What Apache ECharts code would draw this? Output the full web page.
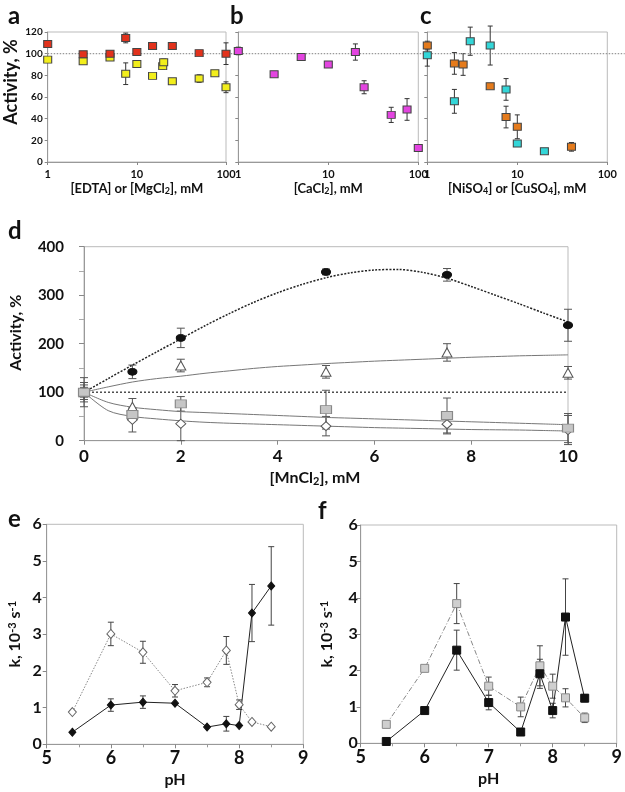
<!DOCTYPE html>
<html><head><meta charset="utf-8">
<script src="https://cdn.jsdelivr.net/npm/echarts@6/dist/echarts.min.js"></script>
<style>html,body{margin:0;padding:0;background:#fff}#c{width:625px;height:792px}</style>
</head><body><div id="c"></div>
<script>
// ---- Panel a: [EDTA] (red) and [MgCl2] (yellow)
const aRedX = [1, 2.5, 5, 7.5, 10, 15, 25, 50, 100];
const aRedY = [109, 99.5, 100, 114.5, 101.5, 107, 107, 100.5, 100];
const aRedE = [2, 1.5, 1.5, 4.5, 1.5, 1.5, 1.5, 1.5, 10];
const aYelX = [1, 2.5, 5, 7.5, 10, 15, 19.5, 20, 25, 50, 75, 100];
const aYelY = [94.5, 93, 96.5, 81.5, 90.5, 79.5, 88.5, 92, 74.5, 77, 82, 69];
const aYelE = [1.5, 1.5, 1.5, 10, 1.5, 2, 3, 3, 1, 3.5, 2, 5];
// ---- Panel b: [CaCl2]
const bMagX = [1, 2.5, 5, 10, 20, 25, 50, 75, 100];
const bMagY = [102.5, 81, 97, 90, 101.5, 69, 43.5, 48.5, 13];
const bMagE = [3.5, 1, 2, 1.5, 7.5, 6, 7, 10, 3];
// ---- Panel c: [NiSO4] (orange) / [CuSO4] (cyan)
const cOrX = [1, 2, 2.5, 5, 7.5, 10, 40];
const cOrY = [107.5, 91, 90, 70, 41.5, 32.5, 14];
const cOrE = [4, 10, 10, 1.5, 10, 11, 4];
const cCyX = [1, 2, 3, 5, 7.5, 10, 20];
const cCyY = [98.5, 56, 111.5, 107.5, 67, 17, 10];
const cCyE = [10, 11, 13, 18, 10, 1, 1];
const topTicks = [0, 20, 40, 60, 80, 100, 120];
const refY = 100;
// ---- Panel d: [MnCl2]
const dX = [0, 1, 2, 5, 7.5, 10];
const dCircle = [100, 142, 212, 348, 342, 238];
const dCircleE = [15, 14, 20, 6, 13, 33];
const dTri = [100, 70, 155, 142, 182, 140];
const dTriE = [10, 17, 13, 13, 18, 13];
const dSq = [100, 54, 76, 64, 52, 26];
const dSqE = [20, 12, 15, 40, 36, 30];
const dDia = [100, 43, 35, 30, 34, 22];
const dDiaE = [30, 25, 35, 20, 20, 30];
// fitted curves, every 0.5 mM
const dCurveX = [0, 0.5, 1, 1.5, 2, 2.5, 3, 3.5, 4, 4.5, 5, 5.5, 6, 6.5, 7, 7.5, 8, 8.5, 9, 9.5, 10];
const dCurvePeak = [100, 128, 156, 183, 210, 237, 262, 285, 305, 322, 336, 346, 352, 353, 347, 335, 318, 300, 282, 263, 245];
const dCurveRise = [100, 111, 121, 128, 133, 139, 144, 149, 153, 156, 159, 161.5, 164, 166, 168, 170, 172, 173.5, 175, 176, 177];
const dCurveSq = [100, 79, 69, 64, 60, 58, 56, 54, 52, 50, 48, 46.5, 45, 43.5, 42, 40.5, 39, 37.5, 36, 34.5, 33];
const dCurveDia = [100, 62, 50, 45, 41, 38, 36, 34.5, 33, 31.5, 30, 28.5, 27, 26, 25, 24, 23, 22.5, 22, 21, 20];
// ---- Panels e, f: pH
const pH = [5.4, 6, 6.5, 7, 7.5, 7.8, 8, 8.2, 8.5];
const eFilled = [0.33, 1.07, 1.15, 1.12, 0.47, 0.56, 0.51, 3.58, 4.32];
const eFilledE = [0, 0.17, 0.17, 0, 0, 0.2, 0, 0.78, 1.07];
const eOpen = [0.88, 3.01, 2.51, 1.46, 1.69, 2.56, 1.08, 0.61, 0.48];
const eOpenE = [0, 0.32, 0.3, 0.17, 0.12, 0.38, 0.13, 0, 0];
const fBlack = [0.05, 0.9, 2.56, 1.12, 0.31, 1.91, 0.9, 3.47, 1.24];
const fBlackE = [0, 0, 0.55, 0.2, 0, 0.4, 0.2, 1.05, 0.1];
const fGray = [0.52, 2.06, 3.84, 1.57, 1.0, 2.13, 1.57, 1.25, 0.7];
const fGrayE = [0, 0, 0.55, 0.25, 0.27, 0.55, 0.33, 0.25, 0.13];

const FONT = 'Lato';
const zip = (xs, ys) => xs.map((x, i) => [x, ys[i]]);

function errBars(idx, xs, ys, es, cap, color) {
  const data = [];
  xs.forEach((x, i) => { if (es[i] > 0) data.push([x, ys[i] - es[i], ys[i] + es[i]]); });
  return {
    type: 'custom', xAxisIndex: idx, yAxisIndex: idx, data, encode: { x: 0, y: [1, 2] }, z: 1, silent: true,
    renderItem(params, api) {
      const x = api.value(0);
      const lo = api.coord([x, api.value(1)]);
      const hi = api.coord([x, api.value(2)]);
      const st = { stroke: color, lineWidth: 1 };
      return { type: 'group', children: [
        { type: 'line', shape: { x1: lo[0], y1: lo[1], x2: hi[0], y2: hi[1] }, style: st },
        { type: 'line', shape: { x1: hi[0] - cap, y1: hi[1], x2: hi[0] + cap, y2: hi[1] }, style: st },
        { type: 'line', shape: { x1: lo[0] - cap, y1: lo[1], x2: lo[0] + cap, y2: lo[1] }, style: st }
      ] };
    }
  };
}
function scat(idx, xs, ys, symbol, size, fill, border, z) {
  return { type: 'scatter', xAxisIndex: idx, yAxisIndex: idx, data: zip(xs, ys), symbol, symbolSize: size,
    itemStyle: { color: fill, borderColor: border, borderWidth: 1, opacity: 1 }, z: z || 3, silent: true };
}
function lineS(idx, xs, ys, color, type, width, smooth, z) {
  return { type: 'line', xAxisIndex: idx, yAxisIndex: idx, data: zip(xs, ys), showSymbol: false, symbol: 'none',
    smooth: smooth || false, lineStyle: { color, type, width }, z: z || 2, silent: true };
}

const lbl = (size, margin, extra) => Object.assign({ fontSize: size, fontWeight: 'bold', color: '#111', fontFamily: FONT, margin }, extra || {});
const nameStyle = (size, extra) => Object.assign({ fontSize: size, fontWeight: 'bold', color: '#111', fontFamily: FONT }, extra || {});
const subRich = (size) => ({ s: { fontSize: size, fontWeight: 'bold', fontFamily: FONT, color: '#111', verticalAlign: 'bottom', padding: [5, 0, 0, 0] } });
const axLine = { lineStyle: { color: '#999', width: 1 } };
const tick = (len) => ({ show: true, length: len, lineStyle: { color: '#888' } });

const logX = (gi, name) => ({
  type: 'log', logBase: 10, min: 1, max: 100, gridIndex: gi,
  axisLine: axLine, axisTick: tick(3), splitLine: { show: false },
  axisLabel: lbl(11, 7),
  name, nameLocation: 'middle', nameGap: 20,
  nameTextStyle: nameStyle(13, { rich: subRich(9) })
});
const topY = (gi, showLabel, name) => ({
  type: 'value', min: topTicks[0], max: topTicks[topTicks.length - 1], interval: 20, gridIndex: gi,
  axisLine: Object.assign({ show: true }, axLine), axisTick: tick(3), splitLine: { show: false },
  axisLabel: Object.assign(lbl(10, 5), { show: showLabel }),
  name: name || '', nameLocation: 'middle', nameGap: 28,
  nameTextStyle: nameStyle(18, { padding: [0, 0, 0, 30] })
});

const boxGrid = (l, t, w, h) => ({ left: l, top: t, width: w, height: h, show: true, borderColor: '#bbb', borderWidth: 1, backgroundColor: 'transparent' });
const supRich = { p: { fontSize: 11, fontWeight: 'bold', fontFamily: FONT, color: '#111', verticalAlign: 'top', padding: [0, 0, 6, 0] } };

const option = {
  animation: false,
  backgroundColor: '#fff',
  title: [
    { text: 'a', left: 3, top: -1 }, { text: 'b', left: 225, top: -1 }, { text: 'c', left: 415, top: -1 },
    { text: 'd', left: 3, top: 214 }, { text: 'e', left: 3, top: 502 }, { text: 'f', left: 313, top: 494 }
  ].map(t => Object.assign(t, { textStyle: { fontSize: 24, fontWeight: 'bold', color: '#111', fontFamily: FONT } })),
  grid: [
    boxGrid(47.7, 32, 178.3, 130),
    boxGrid(238.3, 32, 180, 130),
    boxGrid(427.3, 32, 180, 130),
    { left: 47.7, top: 32, width: 577, height: 130, show: false },
    boxGrid(81.7, 246.7, 486.3, 194),
    boxGrid(46.7, 524.3, 256.6, 220),
    boxGrid(360.7, 525, 256, 218.3)
  ],
  xAxis: [
    logX(0, '[EDTA] or [MgCl{s|2}], mM'),
    logX(1, '[CaCl{s|2}], mM'),
    logX(2, '[NiSO{s|4}] or [CuSO{s|4}], mM'),
    { type: 'value', gridIndex: 3, min: 0, max: 1, show: false },
    { type: 'value', gridIndex: 4, min: 0, max: 10, interval: 2,
      axisLine: axLine, axisTick: tick(4), splitLine: { show: false }, axisLabel: lbl(17, 7),
      name: '[MnCl{s|2}], mM', nameLocation: 'middle', nameGap: 28,
      nameTextStyle: nameStyle(16, { padding: [0, 22, 0, 0], rich: { s: { fontSize: 11, fontWeight: 'bold', fontFamily: FONT, color: '#111', verticalAlign: 'bottom', padding: [7, 0, 0, 0] } } }) },
    { type: 'value', gridIndex: 5, min: 5, max: 9, interval: 1,
      axisLine: axLine, axisTick: tick(4), minorTick: { show: true, splitNumber: 2, length: 3, lineStyle: { color: '#999' } },
      splitLine: { show: false }, minorSplitLine: { show: false }, axisLabel: lbl(18, 5),
      name: 'pH', nameLocation: 'middle', nameGap: 28, nameTextStyle: nameStyle(16) },
    { type: 'value', gridIndex: 6, min: 5, max: 9, interval: 1,
      axisLine: axLine, axisTick: tick(4), minorTick: { show: true, splitNumber: 2, length: 3, lineStyle: { color: '#999' } },
      splitLine: { show: false }, minorSplitLine: { show: false }, axisLabel: lbl(18, 5),
      name: 'pH', nameLocation: 'middle', nameGap: 28, nameTextStyle: nameStyle(16) }
  ],
  yAxis: [
    topY(0, true, 'Activity, %'),
    topY(1, false),
    topY(2, false),
    { type: 'value', gridIndex: 3, min: 0, max: 120, show: false },
    { type: 'value', gridIndex: 4, min: 0, max: 400, interval: 100,
      axisLine: Object.assign({ show: true }, axLine), axisTick: tick(5),
      minorTick: { show: true, splitNumber: 2, length: 5, lineStyle: { color: '#aaa' } },
      splitLine: { show: false }, minorSplitLine: { show: false }, axisLabel: lbl(15, 20),
      name: 'Activity, %', nameLocation: 'middle', nameGap: 60, nameTextStyle: nameStyle(16, { padding: [0, 0, 0, 22] }) },
    { type: 'value', gridIndex: 5, min: 0, max: 6, interval: 1,
      axisLine: Object.assign({ show: true }, axLine), axisTick: tick(4), splitLine: { show: false }, axisLabel: lbl(16, 5),
      name: 'k, 10{p|-3} s{p|-1}', nameLocation: 'middle', nameGap: 23,
      nameTextStyle: nameStyle(16, { rich: supRich }) },
    { type: 'value', gridIndex: 6, min: 0, max: 6, interval: 1,
      axisLine: Object.assign({ show: true }, axLine), axisTick: tick(4), splitLine: { show: false }, axisLabel: lbl(16, 3),
      name: 'k, 10{p|-3} s{p|-1}', nameLocation: 'middle', nameGap: 25,
      nameTextStyle: nameStyle(16, { rich: supRich }) }
  ],
  series: [
    // reference 100% line across a-c
    lineS(3, [0, 1], [refY, refY], '#999', [1.5, 1.5], 1.3, false, 1),
    // panel a
    errBars(0, aRedX, aRedY, aRedE, 2.5, '#333'),
    errBars(0, aYelX, aYelY, aYelE, 2.5, '#333'),
    scat(0, aYelX, aYelY, 'rect', [8, 7], '#f2ee1c', '#444'),
    scat(0, aRedX, aRedY, 'rect', [8, 7], '#e2321c', '#444'),
    // panel b
    errBars(1, bMagX, bMagY, bMagE, 2.5, '#333'),
    scat(1, bMagX, bMagY, 'rect', [8, 7], '#e344e0', '#444'),
    // panel c
    errBars(2, cOrX, cOrY, cOrE, 2.5, '#333'),
    errBars(2, cCyX, cCyY, cCyE, 2.5, '#333'),
    scat(2, cOrX, cOrY, 'rect', [8, 7], '#e57b1c', '#444'),
    scat(2, cCyX, cCyY, 'rect', [8, 7], '#33d6d8', '#444'),
    // panel d
    lineS(4, [0, 10], [refY, refY], '#333', [2, 2], 1.3, false, 1),
    lineS(4, dCurveX, dCurvePeak, '#222', [2, 1.5], 1.5, 0.3, 2),
    lineS(4, dCurveX, dCurveRise, '#777', 'solid', 1, 0.3, 2),
    lineS(4, dCurveX, dCurveSq, '#777', 'solid', 1, 0.3, 2),
    lineS(4, dCurveX, dCurveDia, '#777', 'solid', 1, 0.3, 2),
    errBars(4, dX, dCircle, dCircleE, 4, '#555'),
    errBars(4, dX, dTri, dTriE, 4, '#555'),
    errBars(4, dX, dSq, dSqE, 4, '#555'),
    errBars(4, dX, dDia, dDiaE, 4, '#555'),
    scat(4, dX, dDia, 'diamond', [10, 9], '#fff', '#555', 3),
    scat(4, dX, dTri, 'triangle', [10, 9], '#fff', '#555', 4),
    scat(4, dX, dCircle, 'circle', [9, 7], '#111', '#111', 5),
    scat(4, dX, dSq, 'rect', [11, 8], '#c6c6c6', '#888', 6),
    // panel e
    lineS(5, pH, eOpen, '#888', [1.5, 1.5], 1, false, 2),
    lineS(5, pH, eFilled, '#222', 'solid', 1, false, 2),
    errBars(5, pH, eOpen, eOpenE, 3, '#444'),
    errBars(5, pH, eFilled, eFilledE, 3, '#444'),
    scat(5, pH, eOpen, 'diamond', [8, 9], '#fff', '#666', 4),
    scat(5, pH, eFilled, 'diamond', [7, 8], '#111', '#111', 5),
    // panel f
    lineS(6, pH, fGray, '#888', [5, 2, 1, 2], 1, false, 2),
    lineS(6, pH, fBlack, '#222', 'solid', 1, false, 2),
    errBars(6, pH, fGray, fGrayE, 3, '#444'),
    errBars(6, pH, fBlack, fBlackE, 3, '#444'),
    scat(6, pH, fGray, 'rect', [8, 8], '#cfcfcf', '#888', 4),
    scat(6, pH, fBlack, 'rect', [8, 8], '#111', '#111', 5)
  ]
};
const chart = echarts.init(document.getElementById('c'), null, { renderer: 'canvas' });
chart.setOption(option);
</script>
</body></html>
